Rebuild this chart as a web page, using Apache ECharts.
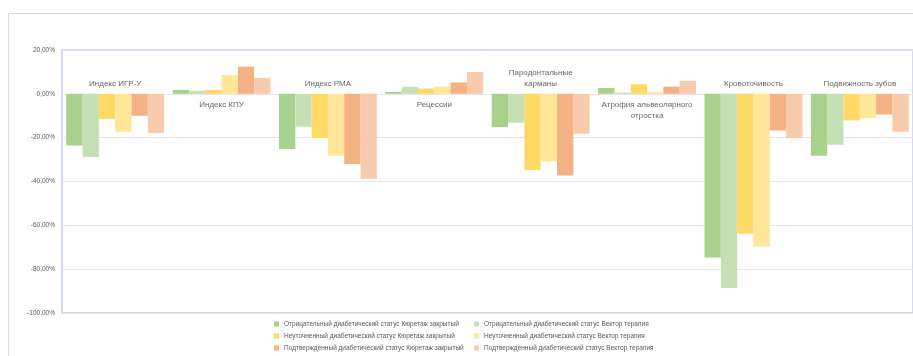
<!DOCTYPE html>
<html>
<head>
<meta charset="utf-8">
<script src="https://cdn.jsdelivr.net/npm/echarts@6/dist/echarts.min.js"></script>
<style>
  html, body { margin: 0; padding: 0; background: #fff; }
  #chart { width: 913px; height: 356px; }
</style>
</head>
<body>
<div id="chart"></div>
<script>
// Indicator groups (x categories)
const categories = [
  'Индекс ИГР-У',
  'Индекс КПУ',
  'Индекс РМА',
  'Рецессии',
  'Пародонтальные\nкарманы',
  'Атрофия альвеолярного\nотростка',
  'Кровоточивость',
  'Подвижность зубов'
];

// Change, % — one array per group of patients
const negCurettage   = [-23.6,  1.8, -25.2, 0.9, -15.2, 2.7, -74.7, -28.2];
const negVector      = [-28.8,  1.4, -15.0, 3.2, -13.2, 0.6, -88.6, -23.2];
const unspCurettage  = [-11.4,  1.8, -20.2, 2.4, -34.7, 4.4, -63.8, -12.1];
const unspVector     = [-17.3,  8.6, -28.3, 3.3, -30.9, 0.9, -69.7, -11.1];
const confCurettage  = [-10.0, 12.4, -32.0, 5.2, -37.3, 3.3, -16.7,  -9.4];
const confVector     = [-17.9,  7.3, -38.8, 10.0, -18.2, 5.9, -20.2, -17.3];

const seriesNames = [
  'Отрицательный диабетический статус Кюретаж закрытый',
  'Отрицательный диабетический статус Вектор терапия',
  'Неуточненный диабетический статус Кюретаж закрытый',
  'Неуточненный диабетический статус Вектор терапия',
  'Подтвержденный диабетический статус Кюретаж закрытый',
  'Подтвержденный диабетический статус Вектор терапия'
];
const seriesValues = [negCurettage, negVector, unspCurettage, unspVector, confCurettage, confVector];

// Y axis range and step, percent
const yMin = -100;
const yMax = 20;
const yStep = 20;

// Group captions drawn above the zero line (the others go below it)
const captionsAbove = new Set([0, 2, 4, 6, 7]);

const colors = ['#a9d18e', '#c5e0b4', '#ffd966', '#ffe699', '#f4b183', '#f8cbad'];

const chart = echarts.init(document.getElementById('chart'), null, { renderer: 'canvas' });

// Group captions sit on the zero baseline, above or below it
const captionSeries = {
  type: 'scatter',
  name: 'captions',
  silent: true,
  symbol: 'rect',
  symbolSize: 1,
  itemStyle: { color: 'rgba(0,0,0,0)' },
  z: 5,
  data: categories.map((c, i) => ({
    value: [i, 0],
    label: {
      position: captionsAbove.has(i) ? 'top' : 'bottom',
      distance: captionsAbove.has(i) ? 4 : 5
    }
  })),
  label: {
    show: true,
    fontFamily: 'Liberation Sans, Arial, sans-serif',
    fontSize: 8,
    color: '#404040',
    lineHeight: 11,
    align: 'center',
    formatter: p => categories[p.dataIndex]
  }
};

chart.setOption({
  animation: false,
  color: colors,
  graphic: [{
    type: 'rect',
    shape: { x: 8.5, y: 13.5, width: 1200, height: 1200 },
    style: { fill: 'none', stroke: '#d9d9d9', lineWidth: 1 },
    silent: true,
    z: -10
  }],
  grid: {
    left: 62,
    top: 50,
    width: 854,
    height: 263,
    show: true,
    borderColor: '#c3d0ea',
    borderWidth: 1.5,
    containLabel: false
  },
  legend: {
    left: 269,
    top: 315,
    width: 420,
    orient: 'horizontal',
    itemWidth: 5,
    itemHeight: 5,
    itemGap: 4,
    icon: 'rect',
    textStyle: {
      fontFamily: 'Liberation Sans, Arial, sans-serif',
      fontSize: 6.5,
      color: '#595959',
      width: 186,
      lineHeight: 8
    },
    data: seriesNames
  },
  xAxis: {
    type: 'category',
    data: categories,
    axisLine: { show: false },
    axisTick: { show: false },
    axisLabel: { show: false },
    splitLine: { show: false }
  },
  yAxis: {
    type: 'value',
    min: yMin,
    max: yMax,
    interval: yStep,
    axisLine: { show: false },
    axisTick: { show: false },
    axisLabel: {
      margin: 7,
      fontFamily: 'Liberation Sans, Arial, sans-serif',
      fontSize: 6.5,
      color: '#595959',
      formatter: v => v.toFixed(2).replace('.', ',') + '%'
    },
    splitLine: { lineStyle: { color: '#e6e6e6', width: 1 } }
  },
  series: seriesNames.map((name, k) => ({
    name,
    type: 'bar',
    data: seriesValues[k],
    barGap: '0%',
    barCategoryGap: '8%',
    itemStyle: { color: colors[k] }
  })).concat([captionSeries])
});
</script>
</body>
</html>
